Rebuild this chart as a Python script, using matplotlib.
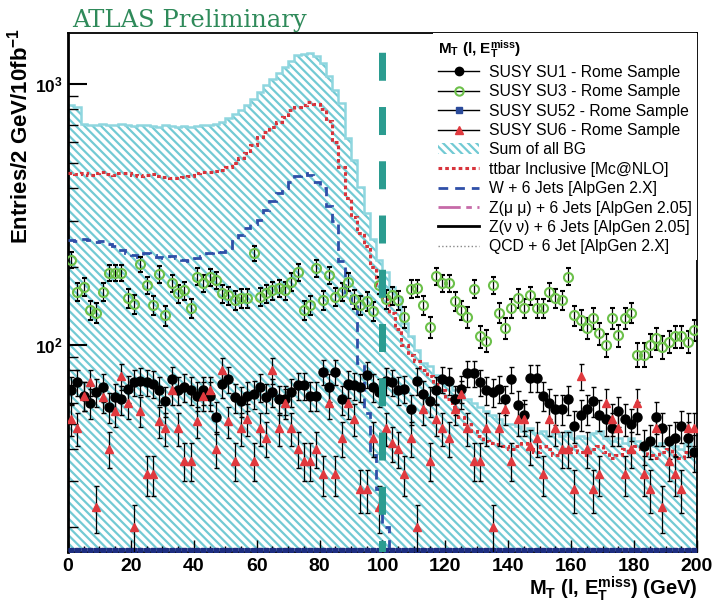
# === M_T(l, MET) : SUSY benchmark points vs. Standard Model background ===

import numpy as np
import matplotlib
matplotlib.use("Agg")
import matplotlib.pyplot as plt
from matplotlib.lines import Line2D
from matplotlib.patches import Patch
from matplotlib.ticker import MultipleLocator, LogLocator, NullFormatter

plt.rcParams["font.family"] = ["Liberation Sans", "DejaVu Sans"]
plt.rcParams["mathtext.fontset"] = "custom"
plt.rcParams["mathtext.rm"] = "Liberation Sans"
plt.rcParams["mathtext.it"] = "Liberation Sans:italic"
plt.rcParams["mathtext.bf"] = "Liberation Sans:bold"
plt.rcParams["hatch.linewidth"] = 1.6

# === BINNING (2 GeV bins, 0-200 GeV) ===
edges = np.arange(0, 202, 2)
centers = edges[:-1] + 1

# === BACKGROUNDS (entries / 2 GeV / 10 fb^-1) ===
sum_bg = [830, 820, 705, 700, 698, 702, 695, 700, 705, 698,
          690, 695, 700, 692, 688, 695, 690, 685, 690, 688,
          692, 695, 700, 705, 715, 740, 765, 795, 830, 880,
          935, 990, 1045, 1100, 1160, 1230, 1290, 1310, 1315, 1280,
          1210, 1070, 950, 843, 620, 512, 404, 320, 256, 212,
          191, 167, 153, 121, 108, 96, 85, 83, 77, 73,
          71, 67, 65, 62, 60, 58, 56, 54, 52, 50,
          50, 49, 47, 48, 46, 47, 45, 46, 45, 47,
          44, 45, 44, 46, 47, 44, 43, 44, 42, 44,
          43, 42, 44, 41, 42, 43, 41, 40, 42, 40]

ttbar = [455, 452, 458, 450, 455, 460, 452, 448, 455, 458,
         450, 445, 448, 452, 445, 440, 438, 435, 440, 445,
         455, 460, 462, 465, 470, 480, 498, 520, 545, 585,
         627, 655, 684, 715, 750, 795, 815, 835, 853, 840,
         800, 720, 600, 482, 365, 310, 270, 240, 200, 170,
         150, 133, 115, 100, 92, 87, 80, 76, 71, 67,
         62, 58, 53, 50, 47, 45, 43, 42, 41.7, 41,
         40, 41, 42, 40, 39, 41, 40, 38, 39, 40,
         41, 39, 38, 40, 41, 39, 37, 38, 40, 39,
         41, 40, 38, 37, 39, 40, 38, 37, 39, 38]

w_jets = [252, 250, 255, 252, 248, 250, 245, 240, 232, 225,
          222, 218, 225, 222, 218, 215, 220, 215, 212, 210,
          215, 220, 225, 230, 228, 235, 250, 265, 280, 290,
          301, 330, 355, 383, 400, 420, 445, 456, 450, 420,
          400, 340, 300, 210, 160, 145, 85, 55, 38, 28,
          20, 15, 12] + [2] * 47

# === SUSY SIGNAL POINTS ===
su1 = [67, 72, 64, 60, 66, 69, 58, 63, 62, 68,
       72, 73, 72, 71, 67, 61, 74, 67, 69, 67,
       64, 67, 64, 53, 71, 74, 63, 61, 64, 65,
       69, 63, 66, 62, 62, 66, 70, 70, 64, 64,
       79, 69, 79, 62, 71, 70, 69, 77, 69, 66,
       73, 72, 67, 68, 57, 73, 65, 61, 67, 74,
       73, 62, 68, 78, 78, 72, 67, 66, 68, 62,
       74, 59, 54, 75, 75, 64, 60, 57, 57, 62,
       49, 54, 57, 61, 54, 52, 48, 56, 52, 50,
       53, 41, 43, 53, 48, 43, 44, 49, 44, 39]

su3 = [212, 160, 167, 136, 133, 160, 189, 189, 189, 151,
       144, 204, 170, 142, 187, 130, 173, 158, 162, 139,
       183, 173, 182, 177, 158, 155, 149, 151, 151, 225,
       153, 158, 162, 165, 162, 175, 190, 136, 142, 197,
       149, 185, 153, 160, 175, 150, 142, 147, 135, 170,
       150, 155, 149, 128, 164, 165, 142, 117, 184, 173,
       173, 147, 136, 128, 164, 108, 104, 170, 133, 116,
       139, 151, 139, 155, 139, 139, 160, 151, 149, 183,
       130, 125, 116, 127, 111, 100, 127, 109, 127, 133,
       92, 92, 100, 106, 98, 103, 108, 108, 103, 114]

su6 = [52, 48, 64, 72, 24, 63, 40, 56, 76, 60,
       20, 56, 32, 32, 51, 48, 67, 48, 36, 36,
       51, 64, 67, 40, 80, 51, 36, 48, 52, 36,
       48, 44, 80, 48, 60, 48, 40, 36, 36, 40,
       32, 60, 32, 44, 60, 52, 28, 28, 44, 24,
       48, 42, 40, 32, 44, 20, 57, 36, 52, 48,
       44, 57, 65, 48, 36, 36, 48, 20, 48, 57,
       36, 52, 52, 41, 44, 32, 52, 48, 40, 40,
       28, 76, 40, 28, 32, 60, 52, 48, 32, 40,
       60, 32, 28, 48, 24, 36, 32, 28, 48, 48]

su52 = [16.4] * 100

CUT_MT = 100  # corte en M_T (GeV)

fig = plt.figure(figsize=(7.17, 6.06), dpi=100)
ax = fig.add_axes([0.0948, 0.0891, 0.8773, 0.8564])
ax.set_yscale("log")
ax.set_xlim(0, 200)
ax.set_ylim(16.1, 1570)

# suma de fondos: relleno rayado + contorno
ax.stairs(sum_bg, edges, baseline=1, fill=True, facecolor="white",
          edgecolor="#72cad4", hatch="\\\\\\\\", linewidth=0, zorder=1)
ax.stairs(sum_bg, edges, baseline=None, color="#8fd6df", linewidth=1.8, zorder=2)

ax.stairs(ttbar, edges, baseline=None, color="#d8343c", linewidth=2.2,
          linestyle=(0, (1.2, 1.0)), zorder=3)
ax.stairs(w_jets, edges, baseline=None, color="#2f4fa8", linewidth=2,
          linestyle=(0, (3.5, 2.5)), zorder=3)

# puntos de señal con errores de Poisson
su1 = np.array(su1, dtype=float)
su3 = np.array(su3, dtype=float)
su6 = np.array(su6, dtype=float)
ax.errorbar(centers, su1, yerr=np.sqrt(su1), fmt="o", color="black", ms=6.5,
            ecolor="black", elinewidth=0.9, capsize=1.8, zorder=5)
ax.errorbar(centers, su3, yerr=np.sqrt(su3), fmt="o", mfc="none", mec="#6cc04a",
            mew=1.5, ms=6.5, ecolor="black", elinewidth=0.9, capsize=1.8, zorder=5)
ax.errorbar(centers, su52, xerr=1, fmt="s", color="#1d2d80", ms=3.5,
            elinewidth=3.5, capsize=0, zorder=4, clip_on=True)
ax.errorbar(centers, su6, yerr=np.sqrt(su6), fmt="^", color="#e0393e", ms=5.5,
            ecolor="black", elinewidth=0.9, capsize=1.8, zorder=6)

ax.axvline(CUT_MT, color="#2b9c90", linewidth=5.04,
           linestyle=(2.36, (4.0, 3.75)), zorder=7)

# === EJES ===
ax.set_xticks(np.arange(0, 201, 20), [str(v) for v in range(0, 201, 20)],
              fontweight="bold")
ax.xaxis.set_minor_locator(MultipleLocator(5))
ax.set_yticks([100, 1000], [r"$\mathbf{10^{2}}$", r"$\mathbf{10^{3}}$"])
ax.yaxis.set_minor_locator(LogLocator(base=10, subs=np.arange(2, 10)))
ax.yaxis.set_minor_formatter(NullFormatter())
ax.tick_params(axis="both", which="both", direction="in", top=False, right=False)
ax.tick_params(axis="x", which="major", length=9, width=1, labelsize=14, pad=4)
ax.tick_params(axis="x", which="minor", length=4.5, width=1)
ax.tick_params(axis="y", which="major", length=14, width=1.5, labelsize=12.5, pad=4)
ax.tick_params(axis="y", which="minor", length=7, width=1)
for s in ax.spines.values():
    s.set_linewidth(1.3)
ax.spines["left"].set_linewidth(2)

ax.set_xlabel(r"$\mathbf{M_{T}}$ (l, $\mathbf{E_{T}^{miss}}$) (GeV)",
              fontsize=14.5, fontweight="bold", loc="right")
ax.xaxis.set_label_coords(1.0, -0.042)
ax.set_ylabel(r"Entries/2 GeV/10fb$^{\mathbf{-1}}$", fontsize=16,
              fontweight="bold", loc="top")
ax.yaxis.set_label_coords(-0.056, 1.01)

fig.text(72 / 717, 1 - 27 / 606, "ATLAS Preliminary", family="DejaVu Serif",
         fontsize=17.5, color="#2f8a5a", va="baseline")

# === LEYENDA ===
handles = [
    Line2D([], [], color="black", marker="o", ms=6, lw=1),
    Line2D([], [], color="black", marker="o", ms=6, mfc="none", mec="#6cc04a",
           mew=1.5, lw=1),
    Line2D([], [], color="black", marker="s", ms=4, mfc="#2a4a9a",
           mec="#2a4a9a", lw=1),
    Line2D([], [], color="black", marker="^", ms=6, mfc="#e0393e",
           mec="#e0393e", lw=1),
    Patch(facecolor="white", edgecolor="#72cad4", hatch="\\\\\\\\", lw=0),
    Line2D([], [], color="#d8343c", lw=2.2, ls=(0, (1.2, 1.0))),
    Line2D([], [], color="#2f4fa8", lw=2, ls=(0, (3.5, 2.5))),
    Line2D([], [], color="#c66aa8", lw=2, ls=(0, (8, 2, 2, 2))),
    Line2D([], [], color="black", lw=2),
    Line2D([], [], color="#888888", lw=1, ls=":"),
]
labels = [
    "SUSY SU1 - Rome Sample",
    "SUSY SU3 - Rome Sample",
    "SUSY SU52 - Rome Sample",
    "SUSY SU6 - Rome Sample",
    "Sum of all BG",
    "ttbar Inclusive [Mc@NLO]",
    "W + 6 Jets [AlpGen 2.X]",
    "Z(\u03bc \u03bc) + 6 Jets [AlpGen 2.05]",
    "Z(\u03bd \u03bd) + 6 Jets [AlpGen 2.05]",
    "QCD + 6 Jet [AlpGen 2.X]",
]
leg = ax.legend(handles, labels, loc="upper right", bbox_to_anchor=(1, 1),
                borderaxespad=0, frameon=True, fancybox=False,
                facecolor="white", edgecolor="none", framealpha=1,
                fontsize=11.3, title=r"$\mathbf{M_{T}}$ (l, $\mathbf{E_{T}^{miss}}$)",
                title_fontproperties={"weight": "bold", "size": 11},
                alignment="left", handlelength=2.6, handletextpad=0.6,
                labelspacing=0.28, borderpad=0.35)
leg.set_zorder(10)

fig.savefig("out.png", dpi=100)
